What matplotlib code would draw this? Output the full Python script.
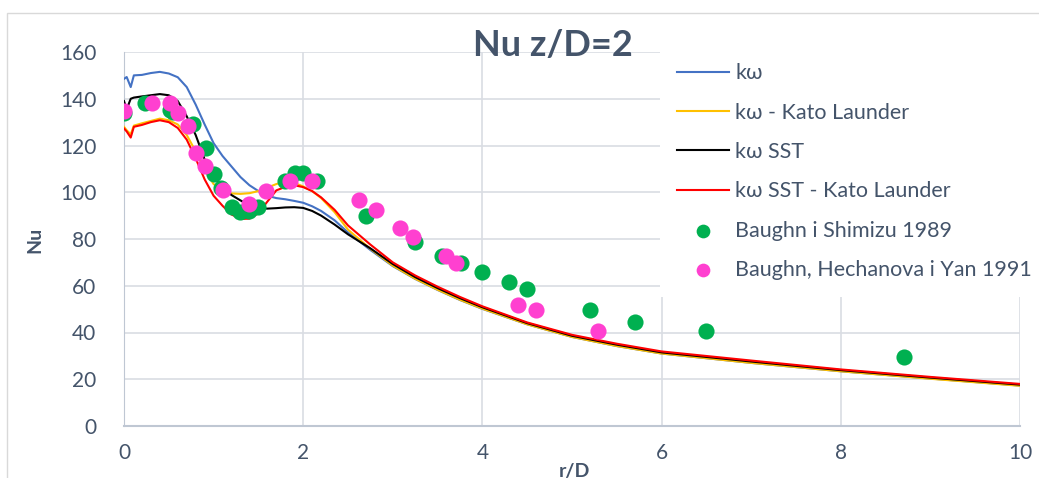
import matplotlib
matplotlib.use("Agg")
import matplotlib.pyplot as plt
from matplotlib.patches import Rectangle

plt.rcParams['font.family'] = ['Lato', 'Open Sans', 'DejaVu Sans']

# ==========================================
# 1. DATA
# ==========================================
r_cfd = [0, 0.03, 0.075, 0.11, 0.2, 0.3, 0.4, 0.5, 0.6, 0.7, 0.8, 0.9, 1.0, 1.1, 1.2,
         1.3, 1.4, 1.5, 1.6, 1.7, 1.8, 1.9, 2.0, 2.1, 2.2, 2.35, 2.5, 2.75, 3.0, 3.25,
         3.5, 3.75, 4.0, 4.5, 5.0, 5.5, 6.0, 7.0, 8.0, 9.0, 10.0]

nu_kw = [148.5, 149.3, 145.0, 150.0, 150.2, 151.0, 151.5, 150.8, 149.2, 145.0, 137.5,
         129.0, 121.0, 115.5, 111.0, 106.5, 103.0, 100.5, 98.5, 97.5, 97.0, 96.3, 95.5,
         94.0, 92.0, 88.0, 82.8, 75.3, 68.4, 62.9, 58.2, 53.9, 50.1, 43.5, 38.1, 34.2,
         31.0, 27.0, 23.4, 20.3, 17.3]

nu_kw_kl = [128.0, 126.5, 124.8, 128.5, 129.5, 130.5, 131.5, 130.8, 129.0, 124.5, 117.5,
            109.5, 103.5, 100.5, 99.5, 99.3, 99.6, 100.5, 102.0, 103.5, 104.5, 104.0,
            102.5, 100.5, 97.5, 91.5, 84.0, 75.8, 68.6, 63.0, 58.3, 54.0, 50.2, 43.5,
            38.1, 34.2, 31.0, 27.0, 23.4, 20.2, 17.2]

nu_sst = [139.0, 135.5, 140.0, 140.5, 141.0, 141.5, 142.0, 141.5, 139.0, 132.5, 124.5,
          114.0, 106.5, 102.0, 98.8, 96.5, 94.5, 93.2, 93.0, 93.2, 93.5, 93.6, 93.3,
          92.0, 90.0, 86.2, 82.0, 76.0, 69.3, 63.7, 59.0, 54.7, 50.8, 44.0, 38.6, 34.8,
          31.5, 27.6, 23.9, 20.7, 17.7]

nu_sst_kl = [127.3, 126.0, 123.4, 128.0, 128.8, 130.0, 130.8, 130.0, 127.5, 122.5, 114.5,
             105.5, 98.5, 94.2, 90.5, 88.6, 88.7, 91.0, 96.0, 100.8, 102.3, 103.0, 102.2,
             100.5, 97.8, 92.5, 85.8, 77.6, 70.0, 64.4, 59.6, 55.2, 51.2, 44.3, 39.0,
             35.2, 31.9, 28.0, 24.2, 21.0, 18.0]

r_shimizu = [0, 0.23, 0.51, 0.55, 0.77, 0.91, 1.0, 1.08, 1.21, 1.3, 1.4, 1.5, 1.8, 1.91,
             2.0, 2.15, 2.7, 3.25, 3.55, 3.76, 4.0, 4.3, 4.5, 5.2, 5.7, 6.5, 8.7]
nu_shimizu = [133.9, 138.0, 135.2, 134.4, 129.1, 119.0, 108.0, 102.0, 93.6, 91.5, 92.0,
              93.6, 104.8, 108.2, 108.2, 104.8, 89.8, 78.6, 72.6, 69.6, 65.8, 61.8, 58.6,
              49.8, 44.6, 40.8, 29.6]

r_hechanova = [0, 0.31, 0.51, 0.6, 0.71, 0.8, 0.9, 1.1, 1.4, 1.58, 1.85, 2.1, 2.62, 2.81,
               3.08, 3.22, 3.59, 3.71, 4.4, 4.6, 5.29]
nu_hechanova = [134.8, 138.3, 138.3, 134.1, 128.3, 117.0, 111.1, 100.8, 94.8, 100.4,
                104.8, 104.8, 96.8, 92.2, 84.8, 80.8, 72.6, 69.6, 51.8, 49.6, 40.8]

TEXT_COLOR = '#44546A'
GRID_COLOR = '#D9DDE3'

# ==========================================
# 2. FIGURE
# ==========================================
fig = plt.figure(figsize=(10.39, 4.78), dpi=100)
ax = fig.add_axes([124 / 1039, 1 - 426 / 478, 896 / 1039, 374 / 478])

# chart frame (Excel style, partly cropped)
fig.patches.append(Rectangle((7 / 1039, -0.1), 1.2, 1.1 - 13 / 478, transform=fig.transFigure,
                             fill=False, edgecolor='#D9D9D9', lw=1.0))

ax.plot(r_cfd, nu_kw, color='#4472C4', lw=1.5, label='kω', zorder=3)
ax.plot(r_cfd, nu_kw_kl, color='#FFC000', lw=1.5, label='kω - Kato Launder', zorder=3)
ax.plot(r_cfd, nu_sst, color='black', lw=1.5, label='kω SST', zorder=3)
ax.plot(r_cfd, nu_sst_kl, color='#FF0000', lw=1.5, label='kω SST - Kato Launder', zorder=3)
ax.scatter(r_shimizu, nu_shimizu, s=135, color='#00B050', lw=0,
           label='Baughn i Shimizu 1989', zorder=4)
ax.scatter(r_hechanova, nu_hechanova, s=135, color='#FF40D0', lw=0,
           label='Baughn, Hechanova i Yan 1991', zorder=5)

ax.set_xlim(0, 10)
ax.set_ylim(0, 160)
ax.set_xticks(range(0, 11, 2))
ax.set_yticks(range(0, 161, 20))
ax.grid(True, color=GRID_COLOR, lw=1.2)
ax.set_axisbelow(True)
ax.tick_params(length=0, labelsize=15, colors=TEXT_COLOR)
ax.tick_params(axis='y', pad=20)
ax.tick_params(axis='x', pad=12)
for s in ['top', 'right']:
    ax.spines[s].set_visible(False)
ax.spines['left'].set_color('#BFC7D3')
ax.spines['bottom'].set_color('#BFC7D3')
ax.spines['bottom'].set_linewidth(1.5)

ax.set_ylabel('Nu', fontsize=14, fontweight='bold', color=TEXT_COLOR)
ax.yaxis.set_label_coords(-0.09, 0.497)
ax.set_xlabel('r/D', fontsize=14, fontweight='bold', color=TEXT_COLOR)
ax.xaxis.set_label_coords(0.503, -0.099)

fig.text(553 / 1039, 1 - 45 / 478, 'Nu z/D=2', ha='center', va='center',
         fontsize=26, fontweight='bold', color=TEXT_COLOR)

leg = ax.legend(loc='upper left', bbox_to_anchor=(660 / 1039, 1 - 46 / 478),
                bbox_transform=fig.transFigure, fontsize=15.5, frameon=True,
                facecolor='white', edgecolor='none', framealpha=1, fancybox=False,
                borderpad=0.8, borderaxespad=0, handlelength=2.4, handletextpad=0.3,
                labelspacing=0.9, scatterpoints=1, markerscale=0.85)
for t in leg.get_texts():
    t.set_color(TEXT_COLOR)
leg.set_zorder(10)

plt.savefig('out.png', dpi=100)
